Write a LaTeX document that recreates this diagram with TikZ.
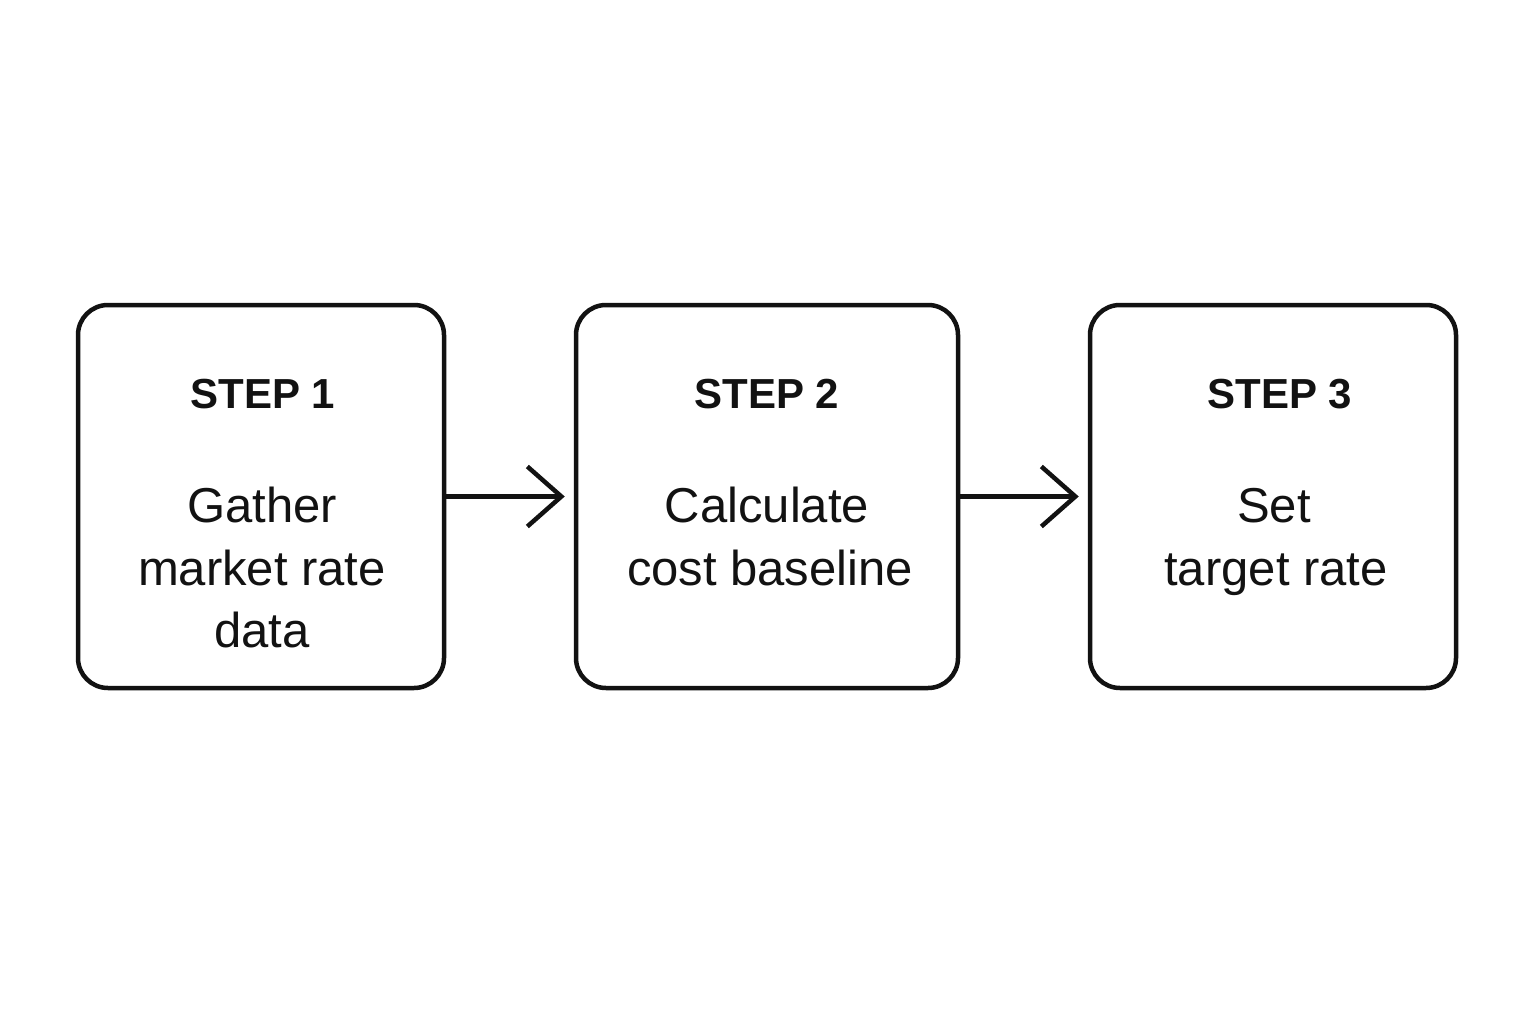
\documentclass[tikz,border=0pt]{standalone}
\usepackage{fontspec}
\setmainfont{Liberation Sans}
\usetikzlibrary{arrows.meta}
\tikzset{
  stepbox/.style={draw=black!93, line width=4.5pt, rounded corners=30pt, minimum width=366pt, minimum height=383pt, inner sep=0pt},
  steptitle/.style={anchor=base, inner sep=0pt, font=\fontsize{42}{48}\bfseries\selectfont, text=black!93},
  steptext/.style={anchor=base, inner sep=0pt, font=\fontsize{49}{60}\selectfont, text=black!93},
  flow/.style={draw=black!93, line width=4.5pt, shorten >=9pt, -{Straight Barb[length=34pt,width=60pt,line width=4.5pt]}}
}
\begin{document}
\begin{tikzpicture}[x=1pt,y=-1pt]
\useasboundingbox[fill=white] (0,0) rectangle (1536,1024);
\node[stepbox] (b1) at (261,496.5) {};
\node[stepbox, minimum width=382pt] (b2) at (767,496.5) {};
\node[stepbox] (b3) at (1273,496.5) {};
\node[steptitle] (t1) at (263,408) {STEP 1};
\node[steptitle] (t2) at (767,408) {STEP 2};
\node[steptitle] (t3) at (1280,408) {STEP 3};
\node[steptext] (l11) at (262,522) {Gather};
\node[steptext] (l12) at (262,585) {market rate};
\node[steptext] (l13) at (262,647) {data};
\node[steptext] (l21) at (767,522) {Calculate};
\node[steptext] (l22) at (770,585) {cost baseline};
\node[steptext] (l31) at (1274,522) {Set};
\node[steptext] (l32) at (1276,585) {target rate};
\draw[flow] (b1.east) -- (b2.west);
\draw[flow] (b2.east) -- (b3.west);
\end{tikzpicture}
\end{document}
